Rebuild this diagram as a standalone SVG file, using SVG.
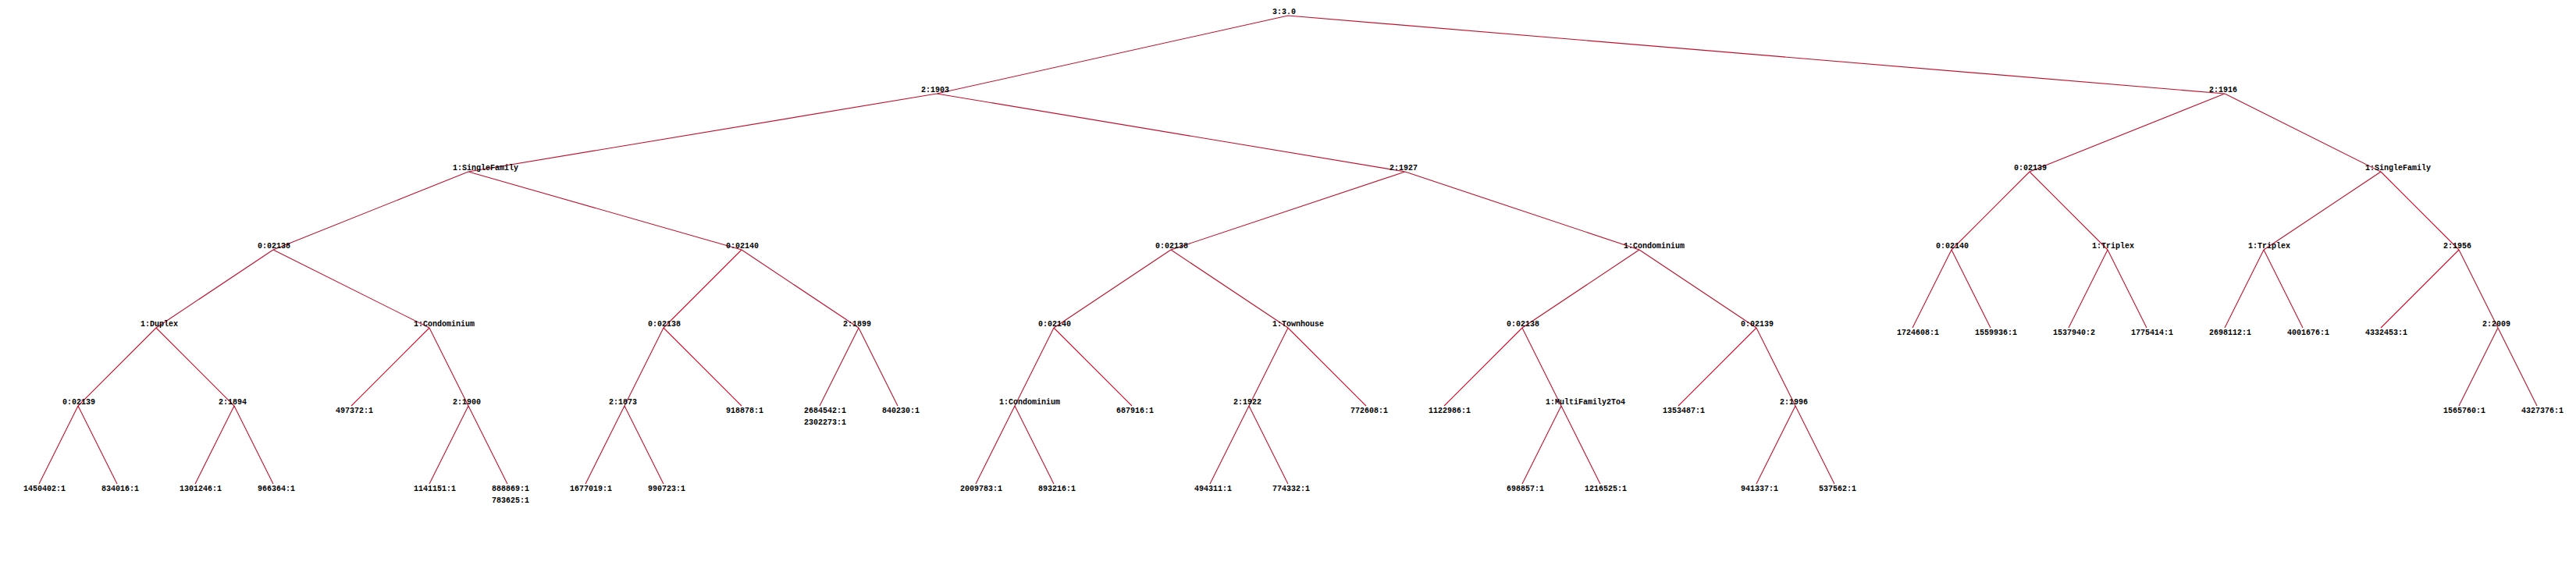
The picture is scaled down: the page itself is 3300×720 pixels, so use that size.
<svg xmlns="http://www.w3.org/2000/svg" width="3300" height="720" viewBox="0 0 3300 720">
<style>
.e{stroke:#c0102c;stroke-width:1.1;fill:none}
text{font-family:"Liberation Mono","DejaVu Sans Mono",monospace;font-size:10px;font-weight:bold;fill:#000}
</style>
<rect width="3300" height="720" fill="#fff"/>
<g id="connectors" class="e">
<path d="M1650 20L1200 120M1650 20L2850 120
M1200 120L600 220M1200 120L1800 220
M2850 120L2600 220M2850 120L3050 220
M600 220L350 320M600 220L950 320
M1800 220L1500 320M1800 220L2100 320
M2600 220L2500 320M2600 220L2700 320
M3050 220L2900 320M3050 220L3150 320
M350 320L200 420M350 320L550 420
M950 320L850 420M950 320L1100 420
M1500 320L1350 420M1500 320L1650 420
M2100 320L1950 420M2100 320L2250 420
M2500 320L2450 420M2500 320L2550 420
M2700 320L2650 420M2700 320L2750 420
M2900 320L2850 420M2900 320L2950 420
M3150 320L3050 420M3150 320L3200 420
M200 420L100 520M200 420L300 520
M550 420L450 520M550 420L600 520
M850 420L800 520M850 420L950 520
M1100 420L1050 520M1100 420L1150 520
M1350 420L1300 520M1350 420L1450 520
M1650 420L1600 520M1650 420L1750 520
M1950 420L1850 520M1950 420L2000 520
M2250 420L2150 520M2250 420L2300 520
M3200 420L3150 520M3200 420L3250 520
M100 520L50 620M100 520L150 620
M300 520L250 620M300 520L350 620
M600 520L550 620M600 520L650 620
M800 520L750 620M800 520L850 620
M1300 520L1250 620M1300 520L1350 620
M1600 520L1550 620M1600 520L1650 620
M2000 520L1950 620M2000 520L2050 620
M2300 520L2250 620M2300 520L2350 620"/>
</g>
<g id="n-root"><text x="1630" y="18">3:3.0</text></g>
<g id="n-1903"><text x="1180" y="118">2:1903</text></g>
<g id="n-1916"><text x="2830" y="118">2:1916</text></g>
<g id="n-sf1"><text x="580" y="218">1:SingleFamily</text></g>
<g id="n-1927"><text x="1780" y="218">2:1927</text></g>
<g id="n-02139a"><text x="2580" y="218">0:02139</text></g>
<g id="n-sf2"><text x="3030" y="218">1:SingleFamily</text></g>
<g id="n-02138a"><text x="330" y="318">0:02138</text></g>
<g id="n-02140a"><text x="930" y="318">0:02140</text></g>
<g id="n-02138b"><text x="1480" y="318">0:02138</text></g>
<g id="n-condo1"><text x="2080" y="318">1:Condominium</text></g>
<g id="n-02140b"><text x="2480" y="318">0:02140</text></g>
<g id="n-triplex1"><text x="2680" y="318">1:Triplex</text></g>
<g id="n-triplex2"><text x="2880" y="318">1:Triplex</text></g>
<g id="n-1956"><text x="3130" y="318">2:1956</text></g>
<g id="n-duplex"><text x="180" y="418">1:Duplex</text></g>
<g id="n-condo2"><text x="530" y="418">1:Condominium</text></g>
<g id="n-02138c"><text x="830" y="418">0:02138</text></g>
<g id="n-1899"><text x="1080" y="418">2:1899</text></g>
<g id="n-02140c"><text x="1330" y="418">0:02140</text></g>
<g id="n-townhouse"><text x="1630" y="418">1:Townhouse</text></g>
<g id="n-02138d"><text x="1930" y="418">0:02138</text></g>
<g id="n-02139b"><text x="2230" y="418">0:02139</text></g>
<g id="l-1724608"><text x="2430" y="428.5">1724608:1</text></g>
<g id="l-1559936"><text x="2530" y="428.5">1559936:1</text></g>
<g id="l-1537940"><text x="2630" y="428.5">1537940:2</text></g>
<g id="l-1775414"><text x="2730" y="428.5">1775414:1</text></g>
<g id="l-2698112"><text x="2830" y="428.5">2698112:1</text></g>
<g id="l-4001676"><text x="2930" y="428.5">4001676:1</text></g>
<g id="l-4332453"><text x="3030" y="428.5">4332453:1</text></g>
<g id="n-2009"><text x="3180" y="418">2:2009</text></g>
<g id="n-02139c"><text x="80" y="518">0:02139</text></g>
<g id="n-1894"><text x="280" y="518">2:1894</text></g>
<g id="l-497372"><text x="430" y="528.5">497372:1</text></g>
<g id="n-1900"><text x="580" y="518">2:1900</text></g>
<g id="n-1873"><text x="780" y="518">2:1873</text></g>
<g id="l-918878"><text x="930" y="528.5">918878:1</text></g>
<g id="l-2684542"><text x="1030" y="528.5">2684542:1</text><text x="1030" y="543.5">2302273:1</text></g>
<g id="l-840230"><text x="1130" y="528.5">840230:1</text></g>
<g id="n-condo3"><text x="1280" y="518">1:Condominium</text></g>
<g id="l-687916"><text x="1430" y="528.5">687916:1</text></g>
<g id="n-1922"><text x="1580" y="518">2:1922</text></g>
<g id="l-772608"><text x="1730" y="528.5">772608:1</text></g>
<g id="l-1122986"><text x="1830" y="528.5">1122986:1</text></g>
<g id="n-multi"><text x="1980" y="518">1:MultiFamily2To4</text></g>
<g id="l-1353487"><text x="2130" y="528.5">1353487:1</text></g>
<g id="n-1996"><text x="2280" y="518">2:1996</text></g>
<g id="l-1565760"><text x="3130" y="528.5">1565760:1</text></g>
<g id="l-4327376"><text x="3230" y="528.5">4327376:1</text></g>
<g id="l-1450402"><text x="30" y="628.5">1450402:1</text></g>
<g id="l-834016"><text x="130" y="628.5">834016:1</text></g>
<g id="l-1301246"><text x="230" y="628.5">1301246:1</text></g>
<g id="l-966364"><text x="330" y="628.5">966364:1</text></g>
<g id="l-1141151"><text x="530" y="628.5">1141151:1</text></g>
<g id="l-888869"><text x="630" y="628.5">888869:1</text><text x="630" y="643.5">783625:1</text></g>
<g id="l-1677019"><text x="730" y="628.5">1677019:1</text></g>
<g id="l-990723"><text x="830" y="628.5">990723:1</text></g>
<g id="l-2009783"><text x="1230" y="628.5">2009783:1</text></g>
<g id="l-893216"><text x="1330" y="628.5">893216:1</text></g>
<g id="l-494311"><text x="1530" y="628.5">494311:1</text></g>
<g id="l-774332"><text x="1630" y="628.5">774332:1</text></g>
<g id="l-698857"><text x="1930" y="628.5">698857:1</text></g>
<g id="l-1216525"><text x="2030" y="628.5">1216525:1</text></g>
<g id="l-941337"><text x="2230" y="628.5">941337:1</text></g>
<g id="l-537562"><text x="2330" y="628.5">537562:1</text></g>
</svg>
